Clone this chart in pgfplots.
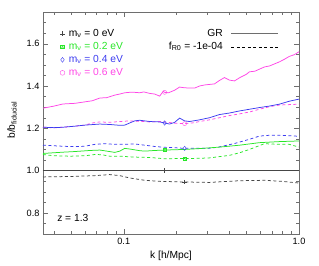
\documentclass[border=0pt]{standalone}
\usepackage{pgfplots}
\pgfplotsset{compat=1.18}
\usepackage{fontspec}
\setmainfont{Liberation Sans}
\definecolor{cgreen}{RGB}{40,230,40}
\definecolor{cblue}{RGB}{60,60,240}
\definecolor{cmag}{RGB}{255,70,230}
\definecolor{cblack}{RGB}{70,70,70}
\definecolor{cframe}{RGB}{110,110,110}
\pgfdeclareplotmark{sqx}{\pgfuseplotmark{square}\pgfuseplotmark{x}}
\begin{document}
\begin{tikzpicture}[font=\fontsize{10.3}{12}\selectfont]
\path[use as bounding box] (0,0) rectangle (319bp,266bp);
\begin{axis}[at={(43bp,32bp)}, anchor=south west, scale only axis,
  width=256bp, height=222bp,
  xmode=log, xmin=0.0346, xmax=1.0, ymin=0.7, ymax=1.75,
  xtick={0.1,1}, xticklabels={0.1,1.0},
  minor xtick={0.04,0.05,0.06,0.07,0.08,0.09,0.2,0.3,0.4,0.5,0.6,0.7,0.8,0.9},
  ytick={0.8,1.0,1.2,1.4,1.6}, yticklabels={0.8,1.0,1.2,1.4,1.6},
  minor ytick={0.75,0.85,0.9,0.95,1.05,1.1,1.15,1.25,1.3,1.35,1.45,1.5,1.55,1.65,1.7},
  /pgf/number format/assume math mode=true,
  tick align=inside, major tick length=5bp, minor tick length=3bp,
  axis line style={cframe}, every tick/.style={cframe},
  tick label style={font=\fontsize{9.2}{11}\selectfont, text=black},
  xticklabel style={yshift=-1bp},
  legend style={draw=none, fill=none, at={(0.066,0.925)}, anchor=north west,
    inner sep=0pt, font=\fontsize{10.3}{12}\selectfont, row sep=3bp, column sep=4bp,
    nodes={inner sep=0pt, text height=7.5bp, text depth=2.5bp}},
  legend cell align=left,
  legend image code/.code={\draw[#1] plot coordinates {(0bp,0bp)};},
]
\addlegendimage{only marks, mark=+, cblack, mark size=2.4bp}
\addlegendentry[text=black]{m\textsubscript{ν} = 0 eV}
\addlegendimage{only marks, mark=sqx, cgreen, mark size=1.8bp}
\addlegendentry[text=cgreen]{m\textsubscript{ν} = 0.2 eV}
\addlegendimage{only marks, mark=diamond, cblue, mark size=2.4bp}
\addlegendentry[text=cblue]{m\textsubscript{ν} = 0.4 eV}
\addlegendimage{only marks, mark=o, cmag, mark size=2.4bp}
\addlegendentry[text=cmag]{m\textsubscript{ν} = 0.6 eV}

% magenta solid (0.6 eV, GR)
\addplot[cmag, line width=0.75bp, forget plot] coordinates {
(0.0346,1.295) (0.040,1.305) (0.045,1.315) (0.0526,1.318) (0.060,1.325) (0.066,1.33)
(0.073,1.343) (0.080,1.345) (0.0889,1.357) (0.095,1.362) (0.1013,1.368) (0.108,1.37)
(0.1155,1.37) (0.1233,1.368) (0.130,1.372) (0.1406,1.365) (0.150,1.362) (0.1603,1.352)
(0.168,1.375) (0.1711,1.37) (0.18,1.368) (0.1951,1.38) (0.2083,1.395) (0.22,1.392)
(0.2375,1.39) (0.2536,1.39) (0.2708,1.40) (0.29,1.405) (0.3296,1.41) (0.35,1.425)
(0.3757,1.44) (0.40,1.428) (0.4284,1.424) (0.46,1.44) (0.50,1.455) (0.5214,1.467)
(0.56,1.47) (0.6346,1.49) (0.68,1.495) (0.7724,1.514) (0.82,1.525) (0.88,1.54)
(0.94,1.548) (1.0,1.562)};
% magenta dashed
\addplot[cmag, line width=0.75bp, dash pattern=on 3bp off 2.5bp, forget plot] coordinates {
(0.0346,1.205) (0.040,1.202) (0.045,1.205) (0.0526,1.21) (0.060,1.215) (0.066,1.225)
(0.073,1.23) (0.0832,1.228) (0.0949,1.232) (0.1082,1.235) (0.1233,1.233) (0.1406,1.23)
(0.1603,1.232) (0.18,1.228) (0.1951,1.224) (0.2225,1.222) (0.25,1.226) (0.2708,1.232)
(0.3087,1.24) (0.3519,1.25) (0.40,1.26) (0.4574,1.268) (0.5214,1.277) (0.5943,1.29)
(0.6776,1.302) (0.7724,1.31) (0.88,1.312) (1.0,1.314)};
% blue solid
\addplot[cblue, line width=0.75bp, forget plot] coordinates {
(0.0346,1.205) (0.040,1.203) (0.045,1.205) (0.0526,1.21) (0.060,1.215) (0.073,1.22)
(0.0832,1.218) (0.0949,1.214) (0.1013,1.215) (0.108,1.225) (0.1155,1.235) (0.1233,1.238)
(0.1406,1.232) (0.1603,1.23) (0.1711,1.225) (0.1827,1.22) (0.1951,1.228) (0.2083,1.248)
(0.2225,1.235) (0.2375,1.232) (0.2708,1.24) (0.3087,1.25) (0.3519,1.265) (0.40,1.272)
(0.4574,1.282) (0.5214,1.29) (0.5943,1.298) (0.6776,1.305) (0.7724,1.314) (0.88,1.328)
(1.0,1.338)};
% blue dashed
\addplot[cblue, line width=0.75bp, dash pattern=on 3bp off 2.5bp, forget plot] coordinates {
(0.0346,1.12) (0.045,1.115) (0.0526,1.113) (0.060,1.115) (0.0684,1.124) (0.0779,1.127)
(0.0889,1.124) (0.1013,1.124) (0.1155,1.126) (0.1317,1.12) (0.1501,1.114) (0.1711,1.11)
(0.1951,1.108) (0.2225,1.105) (0.2708,1.105) (0.3087,1.105) (0.3519,1.112) (0.4284,1.128)
(0.5214,1.148) (0.5943,1.163) (0.6776,1.167) (0.7724,1.167) (0.88,1.165) (1.0,1.162)};
% green solid
\addplot[cgreen, line width=0.75bp, forget plot] coordinates {
(0.0346,1.081) (0.045,1.087) (0.0526,1.09) (0.064,1.095) (0.073,1.097) (0.080,1.092)
(0.0889,1.086) (0.0949,1.092) (0.1013,1.105) (0.108,1.102) (0.1233,1.094) (0.1317,1.092)
(0.150,1.095) (0.1711,1.097) (0.2225,1.1) (0.2708,1.104) (0.3519,1.111) (0.4574,1.12)
(0.5943,1.132) (0.7724,1.137) (1.0,1.14)};
% green dashed
\addplot[cgreen, line width=0.75bp, dash pattern=on 3bp off 2.5bp, forget plot] coordinates {
(0.0346,1.076) (0.040,1.07) (0.0493,1.068) (0.060,1.07) (0.0684,1.076) (0.075,1.075)
(0.0832,1.068) (0.0949,1.068) (0.1082,1.065) (0.1233,1.063) (0.1406,1.062) (0.1711,1.056)
(0.2225,1.057) (0.2708,1.058) (0.3087,1.06) (0.4012,1.072) (0.4574,1.084) (0.5214,1.1)
(0.5943,1.118) (0.6346,1.127) (0.7724,1.124) (0.88,1.124) (1.0,1.111)};
% black solid
\addplot[cblack, line width=0.9bp, forget plot] coordinates {(0.0346,1.0) (1.0,1.0)};
% black dashed
\addplot[cblack, line width=0.75bp, dash pattern=on 3bp off 2.5bp, forget plot] coordinates {
(0.0346,0.97) (0.0493,0.972) (0.0684,0.976) (0.0832,0.981) (0.0949,0.976) (0.1082,0.965)
(0.1317,0.954) (0.1603,0.949) (0.2225,0.946) (0.3087,0.944) (0.4574,0.952) (0.6346,0.954)
(0.8,0.949) (1.0,0.941)};
% markers
\addplot[only marks, mark=+, cblack, mark size=2.2bp, forget plot] coordinates {(0.1711,1.0) (0.2225,0.946)};
\addplot[only marks, mark=sqx, cgreen, mark size=1.6bp, forget plot] coordinates {(0.1711,1.097) (0.2225,1.057)};
\addplot[only marks, mark=diamond, cblue, mark size=2.2bp, forget plot] coordinates {(0.1711,1.225) (0.2225,1.105)};
\addplot[only marks, mark=o, cmag, mark size=2bp, forget plot] coordinates {(0.1711,1.37) (0.2225,1.222)};
\node[anchor=west, inner sep=0pt] at (axis description cs:0.055,0.072) {z = 1.3};
\end{axis}
\begin{axis}[at={(43bp,32bp)}, anchor=south west, scale only axis,
  width=256bp, height=222bp, hide axis, xmin=0, xmax=1, ymin=0, ymax=1,
  legend style={draw=none, fill=none, at={(0.922,0.925)}, anchor=north east,
    inner sep=0pt, font=\fontsize{10.3}{12}\selectfont, row sep=3bp, column sep=8bp,
    nodes={inner sep=0pt, text height=7.5bp, text depth=2.5bp}},
  legend plot pos=right, legend cell align=right,
  legend image code/.code={\draw[#1] (0bp,0bp) -- (47bp,0bp);},
]
\addlegendimage{cframe, line width=1bp}
\addlegendentry{GR}
\addlegendimage{black, line width=0.6bp, dash pattern=on 3bp off 2.5bp}
\addlegendentry{f\textsubscript{R0} = -1e-04}
\end{axis}
\node[rotate=90] at (12bp,146bp) {b/b\textsubscript{fiducial}};
\node at (171bp,10bp) {k [h/Mpc]};
\end{tikzpicture}
\end{document}
